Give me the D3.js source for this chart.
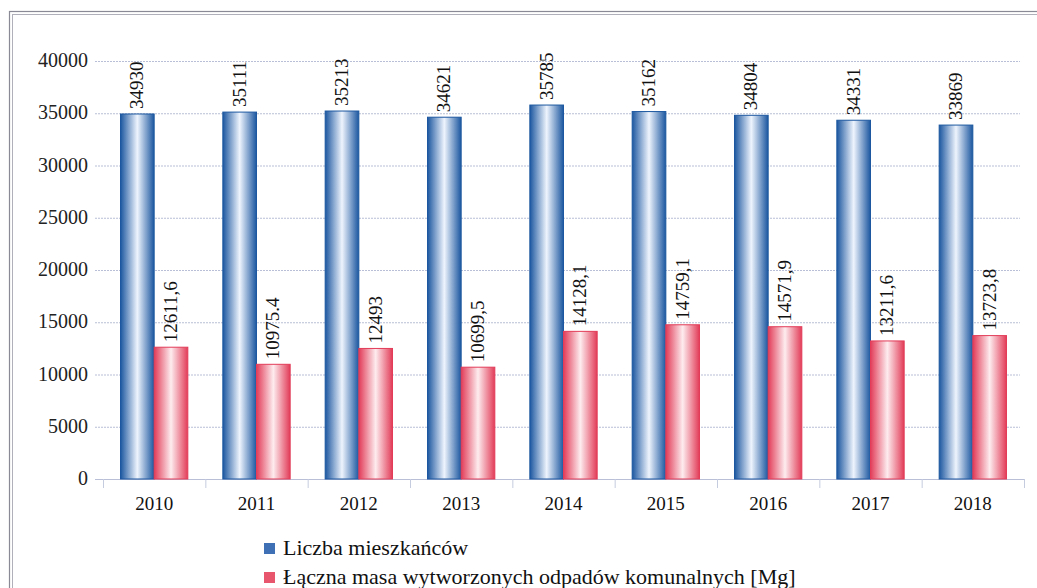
<!DOCTYPE html>
<html>
<head>
<meta charset="utf-8">
<script src="https://cdn.jsdelivr.net/npm/d3@7"></script>
<style>
  body { margin: 0; background: #fff; }
  svg { display: block; font-family: 'Liberation Serif', 'DejaVu Serif', serif; }
</style>
</head>
<body>
<svg width="1037" height="588"></svg>
<script>
var years = ['2010', '2011', '2012', '2013', '2014', '2015', '2016', '2017', '2018'];
var residents = [34930, 35111, 35213, 34621, 35785, 35162, 34804, 34331, 33869];
var waste = [12611.6, 10975.4, 12493, 10699.5, 14128.1, 14759.1, 14571.9, 13211.6, 13723.8];
var wasteLabels = ['12611,6', '10975.4', '12493', '10699,5', '14128,1', '14759,1', '14571,9', '13211,6', '13723,8'];
var yTicks = [0, 5000, 10000, 15000, 20000, 25000, 30000, 35000, 40000];
var seriesNames = ['Liczba mieszkańców', 'Łączna masa wytworzonych odpadów komunalnych [Mg]'];

var svg = d3.select('svg');

// frame (double line like the scan)
svg.append('rect').attr('x', 9.5).attr('y', 11.5).attr('width', 1050).attr('height', 600)
    .attr('fill', 'none').attr('stroke', '#8a8a96').attr('stroke-width', 1.2);
svg.append('rect').attr('x', 12.5).attr('y', 14.5).attr('width', 1050).attr('height', 600)
    .attr('fill', 'none').attr('stroke', '#b0b0ba').attr('stroke-width', 1);

var defs = svg.append('defs');
function grad(id, edge, mid) {
    var g = defs.append('linearGradient').attr('id', id)
        .attr('x1', '0%').attr('x2', '100%').attr('y1', '0%').attr('y2', '0%');
    g.append('stop').attr('offset', '0%').attr('stop-color', edge);
    g.append('stop').attr('offset', '50%').attr('stop-color', mid);
    g.append('stop').attr('offset', '100%').attr('stop-color', edge);
}
grad('gBlue', '#1c57a0', '#eef4fd');
grad('gRed', '#e23c58', '#fdecef');

var scaleX = d3.scaleBand().domain(years).range([103, 1024]).paddingInner(0).paddingOuter(0);
var scaleY = d3.scaleLinear().domain([0, 40000]).range([479, 61]);
var inner = d3.scaleBand().domain([0, 1]).range([0, scaleX.bandwidth()]).paddingOuter(0.52).paddingInner(0);

// gridlines
svg.append('g').selectAll('line')
    .data(yTicks.slice(1))
    .enter()
    .append('line')
    .attr('x1', 95).attr('x2', 1020)
    .attr('y1', function(d){ return scaleY(d) + 0.5; })
    .attr('y2', function(d){ return scaleY(d) + 0.5; })
    .attr('stroke', '#b8bfd6').attr('stroke-width', 1).attr('stroke-dasharray', '2,1');

// y labels
svg.append('g').selectAll('text')
    .data(yTicks)
    .enter()
    .append('text')
    .attr('x', 88)
    .attr('y', function(d){ return scaleY(d) + 6; })
    .attr('text-anchor', 'end')
    .attr('font-size', 20)
    .attr('fill', '#222')
    .text(function(d){ return d; });

// base axis and category ticks
svg.append('line').attr('x1', 95).attr('x2', 1024).attr('y1', 479.5).attr('y2', 479.5)
    .attr('stroke', '#b8bfd6');
svg.append('g').selectAll('line')
    .data(years.concat(['end']))
    .enter()
    .append('line')
    .attr('x1', function(d, i){ return 103 + i * scaleX.step() + 0.5; })
    .attr('x2', function(d, i){ return 103 + i * scaleX.step() + 0.5; })
    .attr('y1', 479).attr('y2', 488)
    .attr('stroke', '#c6cce0');

var series = [
    { vals: residents, labels: residents.map(String), fill: 'url(#gBlue)', stroke: '#1c57a0' },
    { vals: waste, labels: wasteLabels, fill: 'url(#gRed)', stroke: '#e23c58' }
];

series.forEach(function(s, si){
    var g = svg.append('g');
    g.selectAll('rect')
        .data(s.vals)
        .enter()
        .append('rect')
        .attr('x', function(d, i){ return scaleX(years[i]) + inner(si); })
        .attr('y', function(d){ return scaleY(d); })
        .attr('width', inner.bandwidth())
        .attr('height', function(d){ return scaleY(0) - scaleY(d); })
        .attr('fill', s.fill)
        .attr('stroke', s.stroke)
        .attr('stroke-width', 1);

    g.selectAll('text')
        .data(s.vals)
        .enter()
        .append('text')
        .attr('transform', function(d, i){
            var x = scaleX(years[i]) + inner(si) + inner.bandwidth() / 2 + 6;
            var y = scaleY(d) - 5;
            return 'translate(' + x + ',' + y + ') rotate(-90)';
        })
        .attr('font-size', 19)
        .attr('fill', '#111')
        .text(function(d, i){ return s.labels[i]; });
});

// year labels
svg.append('g').selectAll('text')
    .data(years)
    .enter()
    .append('text')
    .attr('x', function(d){ return scaleX(d) + scaleX.bandwidth() / 2; })
    .attr('y', 510)
    .attr('text-anchor', 'middle')
    .attr('font-size', 19)
    .attr('fill', '#111')
    .text(function(d){ return d; });

// legend
var legend = svg.append('g').attr('transform', 'translate(264,537)');
seriesNames.forEach(function(name, i){
    legend.append('rect')
        .attr('x', 0).attr('y', i * 29 + 6)
        .attr('width', 11).attr('height', 11)
        .attr('fill', i === 0 ? '#3f6fb4' : '#e8566e');
    legend.append('text')
        .attr('x', 19).attr('y', i * 29 + 18)
        .attr('font-size', 22)
        .attr('fill', '#111')
        .text(name);
});
</script>
</body>
</html>
